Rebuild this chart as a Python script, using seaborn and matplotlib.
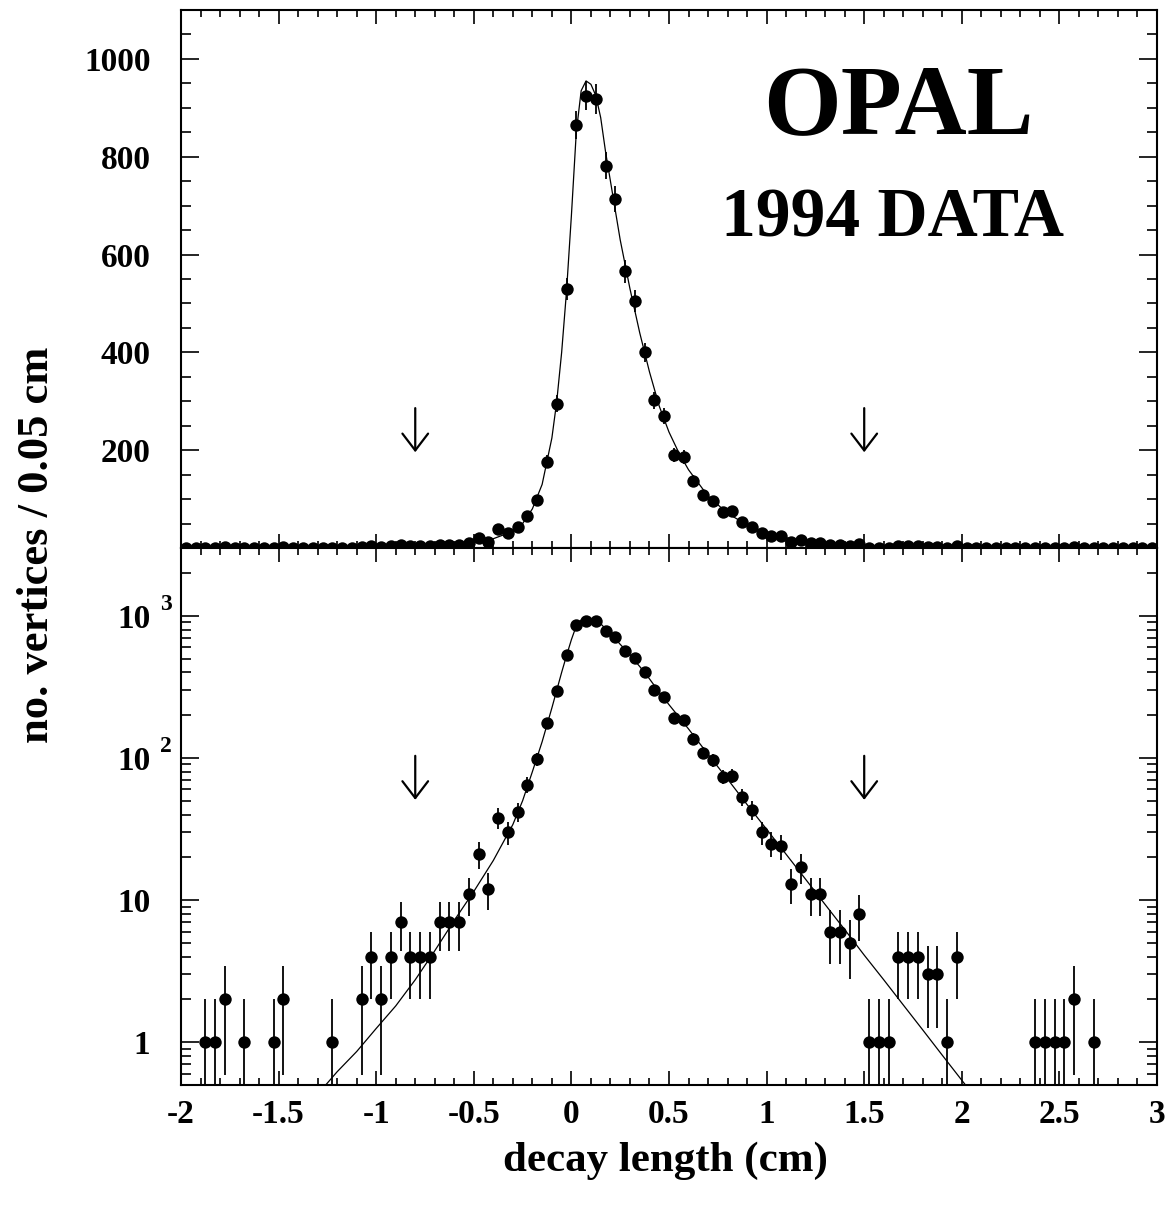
import numpy as np
import pandas as pd
import matplotlib
matplotlib.use("Agg")
import matplotlib.pyplot as plt
from matplotlib.ticker import MultipleLocator, FixedLocator, LogLocator, NullFormatter
import seaborn as sns

# ---------------- data ----------------
# histogram bins of 0.05 cm from -2 to 3 cm (bin centres)
decay_length = np.round(np.arange(100) * 0.05 - 1.975, 3)

counts = [
    0, 0, 1, 1, 2, 0, 1, 0, 0, 1,          # -1.975 .. -1.525
    2, 0, 0, 0, 0, 1, 0, 0, 2, 4,          # -1.475 .. -1.025
    2, 4, 7, 4, 4, 4, 7, 7, 7, 11,         # -0.975 .. -0.525
    21, 12, 38, 30, 42, 65, 98, 176, 295, 530,   # -0.475 .. -0.025
    865, 925, 918, 782, 714, 566, 506, 400, 302, 269,  # 0.025 .. 0.475
    190, 186, 137, 109, 96, 74, 75, 53, 43, 30,   # 0.525 .. 0.975
    25, 24, 13, 17, 11, 11, 6, 6, 5, 8,    # 1.025 .. 1.475
    1, 1, 1, 4, 4, 4, 3, 3, 1, 4,          # 1.525 .. 1.975
    0, 0, 0, 0, 0, 0, 0, 1, 1, 1,          # 2.025 .. 2.475
    1, 2, 0, 1, 0, 0, 0, 0, 0, 0,          # 2.525 .. 2.975
]

# fitted curve
fit_x = [-1.30, -1.20, -1.10, -1.00, -0.90, -0.80, -0.70, -0.60, -0.50, -0.40,
         -0.30, -0.25, -0.20, -0.15, -0.10, -0.075, -0.05, -0.025, 0.00, 0.025,
         0.05, 0.075, 0.10, 0.125, 0.15, 0.175, 0.20, 0.225, 0.25, 0.275,
         0.30, 0.35, 0.40, 0.45, 0.50, 0.55, 0.60, 0.70, 0.80, 0.90,
         1.00, 1.10, 1.20, 1.30, 1.40, 1.50, 1.60, 1.70, 1.80, 1.90,
         2.00, 2.10]
fit_y = [0.43, 0.62, 0.86, 1.25, 1.8, 2.75, 4.4, 7.2, 11.5, 19,
         34, 50, 80, 130, 225, 300, 400, 525, 680, 850,
         935, 955, 948, 925, 880, 810, 750, 690, 630, 580,
         530, 440, 360, 290, 237, 195, 160, 106, 71, 47,
         31.5, 21, 14, 9.3, 6.2, 4.1, 2.75, 1.83, 1.22, 0.81,
         0.54, 0.36]

cut_values = [-0.8, 1.5]

lin_ticks = [200, 400, 600, 800, 1000]
lin_tick_labels = ["200", "400", "600", "800", "1000"]
log_ticks = [1, 10, 100, 1000]
log_tick_labels = ["1", "10", "10", "10"]
log_superscripts = {100: "2", 1000: "3"}
x_ticks = [-2, -1.5, -1, -0.5, 0, 0.5, 1, 1.5, 2, 2.5, 3]
x_tick_labels = ["-2", "-1.5", "-1", "-0.5", "0", "0.5", "1", "1.5", "2", "2.5", "3"]

df = pd.DataFrame({"x": decay_length, "n": counts})
df["err"] = np.sqrt(df["n"])
fit = pd.DataFrame({"x": fit_x, "y": fit_y})

# ---------------- style ----------------
sns.set_theme(style="ticks")
plt.rcParams["font.family"] = ["Liberation Serif", "DejaVu Sans"]
plt.rcParams["font.weight"] = "bold"
plt.rcParams["axes.unicode_minus"] = False
for key in ("text.color", "axes.labelcolor", "xtick.color", "ytick.color",
            "axes.edgecolor"):
    plt.rcParams[key] = "black"

fig = plt.figure(figsize=(11.68, 12.09), dpi=100)
ax1 = fig.add_axes([0.15497, 0.54673, 0.83562, 0.44500])
ax2 = fig.add_axes([0.15497, 0.10256, 0.83562, 0.44417], sharex=ax1)

ms_area = 80

# top: linear
ax1.errorbar(df["x"], df["n"], yerr=df["err"], fmt="none", ecolor="black",
             elinewidth=1.3, capsize=0)
sns.scatterplot(data=df, x="x", y="n", ax=ax1, color="black", s=ms_area,
                linewidth=0, zorder=3)
sns.lineplot(data=fit, x="x", y="y", ax=ax1, color="black", linewidth=0.9,
             estimator=None, sort=False)
ax1.set_ylim(0, 1100)

# bottom: log
pos = df[df["n"] > 0]
ax2.set_yscale("log")
ax2.errorbar(pos["x"], pos["n"], yerr=pos["err"], fmt="none", ecolor="black",
             elinewidth=1.3, capsize=0)
sns.scatterplot(data=pos, x="x", y="n", ax=ax2, color="black", s=ms_area,
                linewidth=0, zorder=3)
sns.lineplot(data=fit, x="x", y="y", ax=ax2, color="black", linewidth=0.9,
             estimator=None, sort=False)
ax2.set_ylim(0.5, 3000)
ax2.set_xlim(-2, 3)

for ax in (ax1, ax2):
    ax.set_xlabel("")
    ax.set_ylabel("")
    for s in ax.spines.values():
        s.set_linewidth(1.5)
        s.set_color("black")
    ax.xaxis.set_major_locator(FixedLocator(x_ticks))
    ax.xaxis.set_minor_locator(MultipleLocator(0.1))
    ax.tick_params(which="both", direction="in", top=True, right=True,
                   width=1.2, color="black")
    ax.tick_params(which="major", length=10)
    ax.tick_params(which="minor", length=5)
    ax.tick_params(axis="y", which="major", length=13, pad=22, labelsize=24)
    ax.tick_params(axis="y", which="minor", length=7)

ax1.yaxis.set_major_locator(FixedLocator(lin_ticks))
ax1.set_yticklabels(lin_tick_labels, fontweight="bold")
ax1.yaxis.set_minor_locator(MultipleLocator(50))
ax1.tick_params(axis="x", labelbottom=False)

ax2.yaxis.set_major_locator(FixedLocator(log_ticks))
ax2.set_yticklabels(log_tick_labels, fontweight="bold")
ax2.yaxis.set_minor_locator(LogLocator(base=10, subs=np.arange(2, 10)))
ax2.yaxis.set_minor_formatter(NullFormatter())
ax2.set_xticks(x_ticks)
ax2.set_xticklabels(x_tick_labels, fontweight="bold")
ax2.tick_params(axis="x", which="major", pad=10, labelsize=24)
ax2.set_xlim(-2, 3)

for val, sup in log_superscripts.items():
    ax2.annotate(sup, xy=(0, val), xycoords=("axes fraction", "data"),
                 xytext=(-11, 8), textcoords="offset points", ha="center",
                 va="center", fontsize=17, fontweight="bold")

# cut arrows
arrow_props = dict(arrowstyle="->, head_length=0.55, head_width=0.42",
                   lw=1.6, color="black", mutation_scale=22,
                   shrinkA=0, shrinkB=0)
for c in cut_values:
    ax1.annotate("", xy=(c, 0.178), xycoords=("data", "axes fraction"),
                 xytext=(c, 0.260), textcoords=("data", "axes fraction"),
                 arrowprops=arrow_props)
    ax2.annotate("", xy=(c, 0.531), xycoords=("data", "axes fraction"),
                 xytext=(c, 0.613), textcoords=("data", "axes fraction"),
                 arrowprops=arrow_props)

# texts
fig.text(0.769, 0.890, "OPAL", ha="center", va="baseline", fontsize=72,
         fontweight="bold")
fig.text(0.764, 0.8045, "1994 DATA", ha="center", va="baseline", fontsize=50,
         fontweight="bold")
fig.text(0.032, 0.549, "no. vertices / 0.05 cm", rotation=90, ha="center",
         va="center", fontsize=32, fontweight="bold")
fig.text(0.570, 0.040, "decay length (cm)", ha="center", va="center",
         fontsize=31, fontweight="bold")

fig.savefig("out.png", dpi=100, facecolor="white")
